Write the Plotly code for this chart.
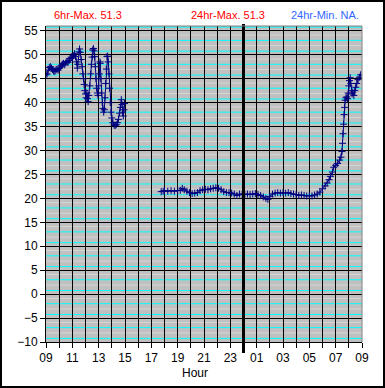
import plotly.graph_objects as go

# ---------------- data ----------------
tick_hours = [9, 11, 13, 15, 17, 19, 21, 23, 25, 27, 29, 31, 33]
tick_labels = ["09", "11", "13", "15", "17", "19", "21", "23", "01", "03", "05", "07", "09"]
y_ticks = list(range(-10, 56, 5))

# afternoon segment (hours since 00:00 of day 1)
day_hours = [9.00, 9.08, 9.17, 9.25, 9.33, 9.42, 9.50, 9.58, 9.67, 9.75, 9.83, 9.92,
             10.00, 10.08, 10.17, 10.25, 10.33, 10.42, 10.50, 10.58, 10.67, 10.75, 10.83, 10.92,
             11.00, 11.08, 11.17, 11.25, 11.33, 11.38, 11.42, 11.50, 11.55, 11.60, 11.67, 11.75,
             11.80, 11.85, 11.90, 11.95, 12.00, 12.05, 12.10, 12.15, 12.20, 12.25, 12.33, 12.40,
             12.45, 12.50, 12.55, 12.60, 12.65, 12.70, 12.75, 12.80, 12.85, 12.90, 12.95, 13.00,
             13.05, 13.10, 13.12, 13.17, 13.22, 13.27, 13.32, 13.38, 13.43, 13.48, 13.53, 13.58,
             13.63, 13.68, 13.73, 13.78, 13.83, 13.88, 13.93, 14.00, 14.08, 14.17, 14.25, 14.33,
             14.42, 14.50, 14.58, 14.65, 14.72, 14.77, 14.82, 14.87, 14.92, 14.96]
day_temps = [45.8, 46.0, 46.8, 47.3, 47.5, 47.2, 46.9, 46.6, 46.5, 46.8, 47.0, 46.8,
             47.1, 47.4, 47.8, 48.0, 48.2, 47.9, 48.3, 48.6, 48.4, 48.8, 49.2, 49.5,
             49.3, 49.8, 50.2, 49.6, 48.5, 47.2, 48.0, 50.6, 51.2, 50.5, 49.0, 47.5,
             46.0, 45.0, 43.8, 42.5, 41.8, 41.0, 42.0, 40.8, 40.2, 41.5, 43.5, 46.0,
             48.0, 49.5, 51.0, 51.3, 50.8, 49.6, 47.5, 45.0, 43.0, 42.0, 41.5, 43.5,
             46.0, 48.5, 48.2, 45.0, 42.0, 40.0, 38.8, 38.0, 38.5, 41.0, 44.0, 47.0,
             49.6, 49.7, 48.5, 46.0, 43.0, 40.0, 38.0, 36.8, 35.8, 35.3, 35.2, 35.4,
             35.8, 36.5, 37.8, 39.0, 40.6, 39.6, 38.0, 37.2, 38.5, 39.8]

# overnight segment
night_hours = [17.75, 17.90, 18.00, 18.25, 18.50, 18.75, 19.00, 19.20, 19.35, 19.50, 19.70, 19.90,
               20.10, 20.30, 20.50, 20.70, 20.90, 21.10, 21.30, 21.50, 21.70, 21.90, 22.10, 22.30,
               22.50, 22.70, 22.90, 23.10, 23.30, 23.50, 23.70, 23.90, 24.10, 24.30, 24.50, 24.70,
               24.90, 25.10, 25.30, 25.50, 25.70, 25.85, 26.00, 26.20, 26.40, 26.60, 26.80, 27.00,
               27.20, 27.40, 27.60, 27.80, 28.00, 28.20, 28.40, 28.60, 28.80, 29.00, 29.20, 29.40,
               29.60, 29.80, 30.00, 30.20, 30.35, 30.50, 30.60, 30.75, 30.85, 31.00, 31.15, 31.30,
               31.40, 31.48, 31.52, 31.56, 31.60, 31.64, 31.68, 31.72, 31.78, 31.85, 31.90, 31.95,
               32.00, 32.05, 32.10, 32.15, 32.20, 32.25, 32.30, 32.38, 32.45, 32.52, 32.60, 32.70,
               32.80, 32.90]
night_temps = [21.4, 21.5, 21.6, 21.5, 21.6, 21.5, 21.6, 21.7, 22.1, 21.8, 21.5, 21.2,
               21.0, 21.1, 21.2, 21.6, 21.8, 21.9, 21.8, 22.0, 22.1, 22.2, 22.1, 21.8,
               21.4, 21.2, 21.2, 21.1, 20.9, 20.6, 20.9, 20.8, 20.8, 20.9, 20.8, 20.9,
               21.0, 20.8, 20.6, 20.3, 20.0, 19.8, 20.4, 20.9, 21.1, 21.2, 21.1, 21.2,
               21.1, 21.2, 21.0, 20.9, 20.8, 20.6, 20.7, 20.6, 20.5, 20.6, 20.5, 20.7,
               20.9, 21.3, 22.0, 22.6, 23.2, 23.9, 24.6, 25.5, 26.5, 26.9, 27.3, 28.0,
               28.6, 29.8, 31.5, 33.5, 35.5, 37.5, 39.0, 40.5, 41.0, 41.2, 40.8, 42.0,
               43.5, 44.6, 45.2, 44.0, 42.5, 41.8, 42.2, 41.5, 42.5, 43.2, 44.0, 44.8,
               45.3, 45.8]

max_6hr = "51.3"
max_24hr = "51.3"
min_24hr = "NA."

# background stripe positions (decoration of the plot area)
cyan_lines = [v + off for v in range(-10, 56, 5) for off in (0.75, 3.0) if -10 < v + off < 56]
light_lines = [v + off for v in range(-10, 56, 5) for off in (1.9, 4.1) if -10 < v + off < 56]

# ---------------- figure ----------------
W, H = 385, 388
L, R, T, B = 46, 23, 26, 46
PW, PH = W - L - R, H - T - B

def px_x(p):
    return (p - L) / PW

def px_y(p):
    return (H - B - p) / PH

xs = day_hours + [None] + night_hours
ys = day_temps + [None] + night_temps

fig = go.Figure()
fig.add_trace(go.Scatter(
    x=xs, y=ys, mode="lines+markers", connectgaps=False,
    line=dict(color="#000080", width=1),
    marker=dict(symbol="cross-thin", size=5, line=dict(color="#000080", width=1)),
    showlegend=False, hoverinfo="skip",
))

font = dict(family="Arial, Liberation Sans, sans-serif", size=12, color="black")

all_hours = list(range(9, 34))
all_hour_text = [tick_labels[tick_hours.index(h)] if h in tick_hours else "" for h in all_hours]

fig.update_layout(
    width=W, height=H, autosize=False,
    margin=dict(l=L, r=R, t=T, b=B, pad=0),
    paper_bgcolor="white", plot_bgcolor="#C0C0C0",
    font=font,
    xaxis=dict(
        range=[9, 33], tickmode="array", tickvals=all_hours, ticktext=all_hour_text,
        showgrid=True, gridcolor="black", gridwidth=1,
        ticks="outside", ticklen=5, tickcolor="black", tickwidth=1,
        showline=True, linecolor="black", linewidth=1, zeroline=False,
        tickfont=dict(size=12), fixedrange=True,
    ),
    yaxis=dict(
        range=[-10, 56], tickmode="array", tickvals=y_ticks,
        showgrid=True, gridcolor="black", gridwidth=1,
        ticks="outside", ticklen=5, tickcolor="black",
        showline=True, linecolor="black", linewidth=1, zeroline=False,
        tickfont=dict(size=12), fixedrange=True,
    ),
)

# background stripes below the grid
for v in light_lines:
    fig.add_shape(type="line", xref="paper", yref="y", x0=0, x1=1, y0=v, y1=v,
                  layer="below", line=dict(color="#D6D6D6", width=1))
for v in cyan_lines:
    fig.add_shape(type="line", xref="paper", yref="y", x0=0, x1=1, y0=v, y1=v,
                  layer="below", line=dict(color="#00FFFF", width=1))

# midnight marker line
fig.add_shape(type="line", xref="x", yref="paper", x0=24, x1=24,
              y0=px_y(353), y1=px_y(24), line=dict(color="black", width=3))
# plot-area top/right border
fig.add_shape(type="line", xref="paper", yref="paper", x0=0, x1=1, y0=1, y1=1,
              line=dict(color="#808080", width=1))
fig.add_shape(type="line", xref="paper", yref="paper", x0=1, x1=1, y0=0, y1=1,
              line=dict(color="#808080", width=1))
# chart border
fig.add_shape(type="rect", xref="paper", yref="paper",
              x0=px_x(1), x1=px_x(384), y0=px_y(387), y1=px_y(1),
              line=dict(color="black", width=2))

ann_font = dict(family="Arial, Liberation Sans, sans-serif", size=11)
def label(x, y, text, fnt):
    fig.add_annotation(xref="paper", yref="paper", x=px_x(x), y=px_y(y),
                       xanchor="center", yanchor="middle",
                       text=text, showarrow=False, font=fnt)

label(88, 15, f"6hr-Max. {max_6hr}", dict(ann_font, color="#FF0000"))
label(228, 15, f"24hr-Max. {max_24hr}", dict(ann_font, color="#FF0000"))
label(325, 15, f"24hr-Min. {min_24hr}", dict(ann_font, color="#3366FF"))
label(195, 373, "Hour", dict(font, size=12))

fig.write_html("out.html", config={"staticPlot": True},
               post_script="document.body.style.margin='0';document.body.style.padding='0';")
